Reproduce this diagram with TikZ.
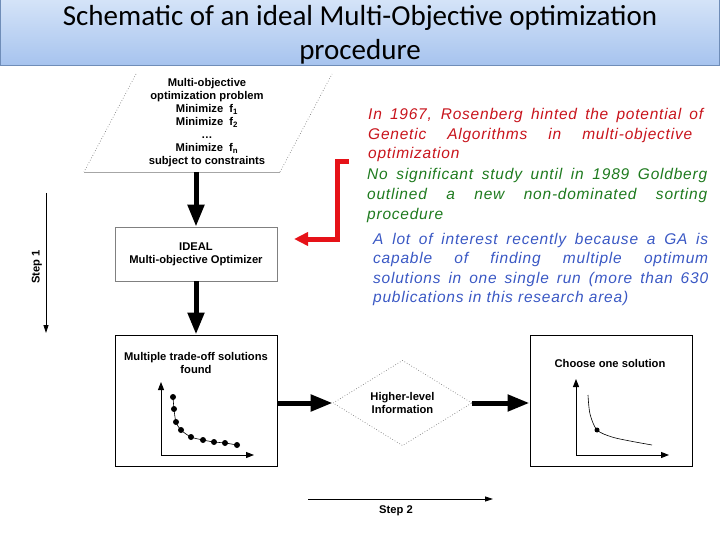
\documentclass[tikz,border=0pt]{standalone}
\usepackage{fontspec}
\setmainfont{Liberation Sans}
\newfontfamily\titlefont{Carlito}
\newfontfamily\bodyfont[LetterSpace=5]{Liberation Sans}
\usetikzlibrary{arrows.meta,shapes.geometric}
\definecolor{tred}{HTML}{C8141C}
\definecolor{tgreen}{HTML}{1E7A1E}
\definecolor{tblue}{HTML}{3A58C4}
\definecolor{arrred}{HTML}{E61218}
\definecolor{bartop}{HTML}{D4E3F8}
\definecolor{barbot}{HTML}{A6C3EE}
\definecolor{barline}{HTML}{6F8DB8}
\begin{document}
\begin{tikzpicture}[x=1pt,y=-1pt,
  lbl/.style={font=\bfseries\fontsize{11.2}{13}\selectfont, align=center, inner sep=0},
  bigarrow/.style={line width=5pt, -{Triangle[length=22pt,width=16pt]}},
  redarrow/.style={draw=arrred, line width=5pt, line join=miter, -{Triangle[length=14pt,width=13pt]}},
  steparrow/.style={line width=0.8pt, -{Triangle[length=8pt,width=5pt]}},
  axisarrow/.style={line width=1pt, -{Triangle[length=8pt,width=6pt]}},
  box/.style={rectangle, inner sep=0, minimum width=162pt},
  dotpt/.style={circle, fill=black, inner sep=0, minimum size=6pt},
  para/.style={anchor=base west, inner sep=0, font=\bodyfont\itshape\fontsize{15.5}{18}\selectfont}]

\useasboundingbox (0,0) rectangle (720,540);

% title bar
\shade[top color=bartop, bottom color=barbot] (0,0) rectangle (720,66);
\draw[barline, line width=1pt] (0.5,0) -- (0.5,66) -- (719.5,66) -- (719.5,0);
\node[font=\titlefont\fontsize{29}{34}\selectfont, align=center, inner sep=0] (title) at (360,34.5)
  {Schematic of an ideal Multi-Objective optimization\\procedure};

% problem parallelogram
\coordinate (ptl) at (136,74);
\coordinate (ptr) at (332,74);
\coordinate (pbr) at (280,172);
\coordinate (pbl) at (84,172);
\draw[gray, dotted, line width=0.7pt] (ptl) -- (pbl);
\draw[gray!70, line width=0.7pt] (pbl) -- (pbr);
\draw[gray, dotted, line width=0.7pt] (pbr) -- (ptr);
\node[lbl] (prob) at (207,122.5) {Multi-objective\\optimization problem\\Minimize\ \ f\textsubscript{1}\\Minimize\ \ f\textsubscript{2}\\\dots\\Minimize\ \ f\textsubscript{n}\\subject to constraints};
\coordinate (pbot) at (196,172);

% ideal optimizer
\node[box, draw=gray, line width=0.7pt, minimum height=54pt, lbl] (ideal) at (196,254) {IDEAL\\Multi-objective Optimizer};
\draw[bigarrow] (pbot) -- (ideal.north);

% multiple solutions box
\node[box, draw=black, line width=1pt, minimum height=131pt] (multi) at (196,400.5) {};
\node[lbl] (multitxt) at (196,362.5) {Multiple trade-off solutions\\found};
\draw[bigarrow] (ideal.south) -- (multi.north);
\coordinate (mo) at (161,455);
\coordinate (my) at (161,382);
\coordinate (mx) at (254,455);
\draw[axisarrow] (mo) -- (my);
\draw[axisarrow] (mo) -- (mx);
\draw[line width=0.6pt] plot[smooth] coordinates {(173,397) (174,409) (176,422) (181,430) (191,437) (203,440) (214,442) (225,443) (237,445)};
\foreach \p in {(173,397),(174,409),(176,422),(181,430),(191,437),(203,440),(214,442),(225,443),(237,445)}
  \node[dotpt] at \p {};

% diamond
\node[diamond, draw=gray, dotted, line width=0.7pt, minimum width=139pt, minimum height=81pt, inner sep=0, lbl] (info) at (402.5,403) {Higher-level\\Information};
\draw[bigarrow] (multi.east |- info.west) -- (info.west);

% choose box
\node[box, draw=black, line width=1pt, minimum height=131pt] (choose) at (611,400.5) {};
\node[lbl] (choosetxt) at (610,363) {Choose one solution};
\draw[bigarrow] (info.east) -- (choose.west |- info.east);
\coordinate (co) at (576,455);
\coordinate (cy) at (576,379);
\coordinate (cx) at (669,455);
\draw[axisarrow] (co) -- (cy);
\draw[axisarrow] (co) -- (cx);
\draw[line width=0.6pt] plot[smooth] coordinates {(588,395) (590,414) (597,430) (612,437) (630,441) (652,445)};
\node[dotpt, minimum size=5pt] (chosen) at (597,430) {};

% step arrows
\coordinate (s1a) at (46,193);
\coordinate (s1b) at (46,333);
\draw[steparrow] (s1a) -- (s1b);
\node[lbl, rotate=90] (step1) at (37,267) {Step 1};
\coordinate (s2a) at (308,499);
\coordinate (s2b) at (493,499);
\draw[steparrow] (s2a) -- (s2b);
\node[lbl] (step2) at (396,511) {Step 2};

% red arrow
\coordinate (r0) at (349,162);
\coordinate (r1) at (337,162);
\coordinate (r2) at (337,239);
\coordinate (r3) at (294,239);
\draw[redarrow] (r0) -- (r1) -- (r2) -- (r3);

% text
\node[para, text=tred] (t1) at (368,120) {\makebox[335pt][s]{In 1967, Rosenberg hinted the potential of}};
\node[para, text=tred] (t2) at (368,140) {\makebox[324pt][s]{Genetic Algorithms in multi-objective}};
\node[para, text=tred] (t3) at (368,159) {optimization};
\node[para, text=tgreen] (t4) at (367,180) {\makebox[340pt][s]{No significant study until in 1989 Goldberg}};
\node[para, text=tgreen] (t5) at (367,200) {\makebox[340pt][s]{outlined a new non-dominated sorting}};
\node[para, text=tgreen] (t6) at (367,219) {procedure};
\node[para, text=tblue] (t7) at (373,244) {\makebox[335pt][s]{A lot of interest recently because a GA is}};
\node[para, text=tblue] (t8) at (373,263) {\makebox[335pt][s]{capable of finding multiple optimum}};
\node[para, text=tblue] (t9) at (373,283) {\makebox[335pt][s]{solutions in one single run (more than 630}};
\node[para, text=tblue] (t10) at (373,302) {publications in this research area)};
\end{tikzpicture}
\end{document}
